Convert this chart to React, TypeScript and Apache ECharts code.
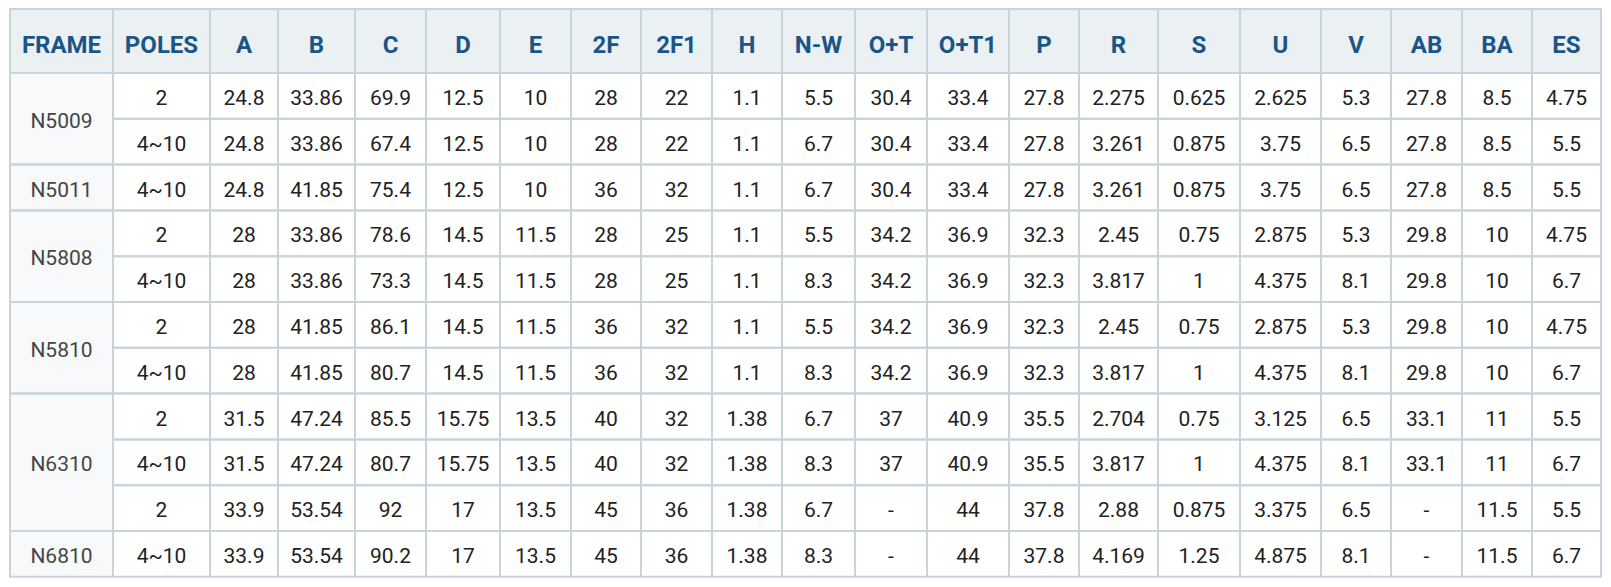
import React, { useEffect, useRef } from "react";
import * as echarts from "echarts";

// ---- data ----
const headers = ["FRAME", "POLES", "A", "B", "C", "D", "E", "2F", "2F1", "H", "N-W", "O+T", "O+T1", "P", "R", "S", "U", "V", "AB", "BA", "ES"];
const frames = ["N5009", "N5011", "N5808", "N5810", "N6310", "N6810"];
const frameSpans = [2, 1, 2, 2, 3, 1];
const poles = ["2", "4~10", "4~10", "2", "4~10", "2", "4~10", "2", "4~10", "2", "4~10"];
const colA = [24.8, 24.8, 24.8, 28, 28, 28, 28, 31.5, 31.5, 33.9, 33.9];
const colB = [33.86, 33.86, 41.85, 33.86, 33.86, 41.85, 41.85, 47.24, 47.24, 53.54, 53.54];
const colC = [69.9, 67.4, 75.4, 78.6, 73.3, 86.1, 80.7, 85.5, 80.7, 92, 90.2];
const colD = [12.5, 12.5, 12.5, 14.5, 14.5, 14.5, 14.5, 15.75, 15.75, 17, 17];
const colE = [10, 10, 10, 11.5, 11.5, 11.5, 11.5, 13.5, 13.5, 13.5, 13.5];
const col2F = [28, 28, 36, 28, 28, 36, 36, 40, 40, 45, 45];
const col2F1 = [22, 22, 32, 25, 25, 32, 32, 32, 32, 36, 36];
const colH = [1.1, 1.1, 1.1, 1.1, 1.1, 1.1, 1.1, 1.38, 1.38, 1.38, 1.38];
const colNW = [5.5, 6.7, 6.7, 5.5, 8.3, 5.5, 8.3, 6.7, 8.3, 6.7, 8.3];
const colOT = [30.4, 30.4, 30.4, 34.2, 34.2, 34.2, 34.2, 37, 37, "-", "-"];
const colOT1 = [33.4, 33.4, 33.4, 36.9, 36.9, 36.9, 36.9, 40.9, 40.9, 44, 44];
const colP = [27.8, 27.8, 27.8, 32.3, 32.3, 32.3, 32.3, 35.5, 35.5, 37.8, 37.8];
const colR = [2.275, 3.261, 3.261, 2.45, 3.817, 2.45, 3.817, 2.704, 3.817, 2.88, 4.169];
const colS = [0.625, 0.875, 0.875, 0.75, 1, 0.75, 1, 0.75, 1, 0.875, 1.25];
const colU = [2.625, 3.75, 3.75, 2.875, 4.375, 2.875, 4.375, 3.125, 4.375, 3.375, 4.875];
const colV = [5.3, 6.5, 6.5, 5.3, 8.1, 5.3, 8.1, 6.5, 8.1, 6.5, 8.1];
const colAB = [27.8, 27.8, 27.8, 29.8, 29.8, 29.8, 29.8, 33.1, 33.1, "-", "-"];
const colBA = [8.5, 8.5, 8.5, 10, 10, 10, 10, 11, 11, 11.5, 11.5];
const colES = [4.75, 5.5, 5.5, 4.75, 6.7, 4.75, 6.7, 5.5, 6.7, 5.5, 6.7];

const valueCols: (number | string)[][] = [colA, colB, colC, colD, colE, col2F, col2F1, colH, colNW, colOT, colOT1, colP, colR, colS, colU, colV, colAB, colBA, colES];

// ---- layout (axis units) ----
const colEdges = [0, 103, 200, 268, 345, 416, 490, 561, 631, 702, 772, 845, 917, 999, 1069, 1148, 1230, 1311, 1381, 1452, 1522, 1591];
const headerH = 64;
const rowH = 45.8;
const nRows = poles.length;
const totalH = headerH + rowH * nRows;
const rowTop = (r: number) => (r < 0 ? 0 : headerH + r * rowH);
const rowBottom = (r: number, span: number) => (r < 0 ? headerH : headerH + (r + span) * rowH);

type Cell = { c: number; r: number; span: number; text: string; kind: "header" | "frame" | "body" };

function buildCells(): Cell[] {
  const cells: Cell[] = [];
  headers.forEach((h, i) => cells.push({ c: i, r: -1, span: 1, text: h, kind: "header" }));
  let r = 0;
  frames.forEach((f, i) => {
    cells.push({ c: 0, r, span: frameSpans[i], text: f, kind: "frame" });
    r += frameSpans[i];
  });
  poles.forEach((p, i) => cells.push({ c: 1, r: i, span: 1, text: p, kind: "body" }));
  valueCols.forEach((col, ci) => {
    col.forEach((v, ri) => cells.push({ c: ci + 2, r: ri, span: 1, text: String(v), kind: "body" }));
  });
  return cells;
}

export default function App() {
  const ref = useRef<HTMLDivElement>(null);
  useEffect(() => {
    if (!ref.current) return;
    const chart = echarts.init(ref.current, null, { renderer: "svg" });
    const cells = buildCells();
    const data = cells.map((c) => [c.c, c.r, c.span]);

    const cellRect = (api: any, cell: Cell) => {
      const p0 = api.coord([colEdges[cell.c], rowTop(cell.r)]);
      const p1 = api.coord([colEdges[cell.c + 1], rowBottom(cell.r, cell.span)]);
      return { x: p0[0], y: Math.min(p0[1], p1[1]), w: p1[0] - p0[0], h: Math.abs(p1[1] - p0[1]) };
    };

    const fillsRender = (params: any, api: any) => {
      const cell = cells[params.dataIndex];
      const b = cellRect(api, cell);
      const bg = cell.kind === "header" ? "#ebf0f3" : cell.kind === "frame" ? "#f7f9fb" : "#ffffff";
      const isHeader = cell.kind === "header";
      return {
        type: "group",
        children: [
          { type: "rect", shape: { x: b.x, y: b.y, width: b.w, height: b.h }, style: { fill: bg } },
          {
            type: "text",
            style: {
              text: cell.text,
              x: b.x + b.w / 2,
              y: b.y + b.h / 2 + (isHeader ? 4 : 2),
              align: "center",
              verticalAlign: "middle",
              fontFamily: "Roboto",
              fontSize: isHeader ? 24 : 21,
              fontWeight: isHeader ? "bold" : "normal",
              fill: isHeader ? "#1b5587" : cell.kind === "frame" ? "#454545" : "#222222",
            },
          },
        ],
      };
    };

    const borderRender = (params: any, api: any) => {
      const cell = cells[params.dataIndex];
      const b = cellRect(api, cell);
      return {
        type: "rect",
        shape: { x: b.x, y: b.y, width: b.w, height: b.h },
        style: { fill: "none", stroke: "#c7d4db", lineWidth: 2 },
      };
    };

    chart.setOption({
      animation: false,
      grid: { left: 10, top: 9, width: 1591, height: totalH },
      xAxis: { type: "value", min: 0, max: 1591, show: false },
      yAxis: { type: "value", min: 0, max: totalH, inverse: true, show: false },
      series: [
        { type: "custom", renderItem: fillsRender, data, z: 1, clip: false, silent: true },
        { type: "custom", renderItem: borderRender, data, z: 2, clip: false, silent: true },
      ],
    });
    return () => chart.dispose();
  }, []);
  return <div ref={ref} style={{ position: "fixed", left: 0, top: 0, width: 1611, height: 587, background: "#fff" }} />;
}
